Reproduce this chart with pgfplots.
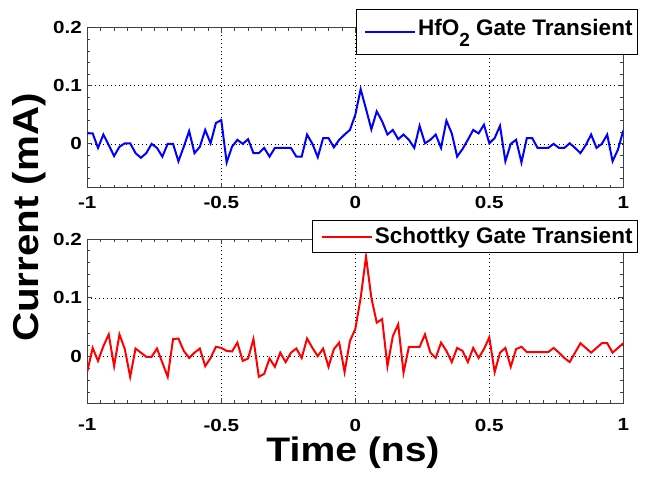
\documentclass[border=0pt]{standalone}
\usepackage{fontspec}
\setmainfont{Liberation Sans}
\usepackage{pgfplots}
\pgfplotsset{compat=1.18}
\usepackage{pgfplotstable}

\pgfplotstableread{
x y
-1.00 0.018
-0.98 0.018
-0.96 -0.007
-0.94 0.016
-0.92 -0.002
-0.90 -0.021
-0.88 -0.005
-0.86 0.001
-0.84 0.001
-0.82 -0.016
-0.80 -0.024
-0.78 -0.016
-0.76 0.000
-0.74 -0.007
-0.72 -0.022
-0.70 0.000
-0.68 0.000
-0.66 -0.030
-0.64 -0.005
-0.62 0.022
-0.60 -0.016
-0.58 -0.005
-0.56 0.024
-0.54 0.001
-0.52 0.036
-0.50 0.041
-0.48 -0.032
-0.46 -0.005
-0.44 0.007
-0.42 0.000
-0.40 0.008
-0.38 -0.016
-0.36 -0.016
-0.34 -0.007
-0.32 -0.022
-0.30 -0.007
-0.28 -0.007
-0.26 -0.007
-0.24 -0.007
-0.22 -0.022
-0.20 -0.022
-0.18 0.016
-0.16 0.000
-0.14 -0.023
-0.12 0.010
-0.10 0.010
-0.08 -0.006
-0.06 0.007
-0.04 0.016
-0.02 0.024
0.00 0.050
0.02 0.094
0.04 0.060
0.06 0.025
0.08 0.056
0.10 0.039
0.12 0.016
0.14 0.024
0.16 0.008
0.18 0.016
0.20 0.007
0.22 -0.007
0.24 0.031
0.26 0.001
0.28 0.007
0.30 0.016
0.32 -0.007
0.34 0.040
0.36 0.018
0.38 -0.022
0.40 -0.009
0.42 0.007
0.44 0.024
0.46 0.018
0.48 0.033
0.50 0.001
0.52 0.010
0.54 0.031
0.56 -0.030
0.58 0.000
0.60 0.007
0.62 -0.032
0.64 0.010
0.66 0.010
0.68 -0.007
0.70 -0.007
0.72 -0.007
0.74 0.000
0.76 -0.007
0.78 -0.007
0.80 0.001
0.82 -0.007
0.84 -0.016
0.86 -0.002
0.88 0.016
0.90 -0.007
0.92 0.000
0.94 0.016
0.96 -0.030
0.98 -0.010
1.00 0.023
}\hfodata

\pgfplotstableread{
x y
-1.00 -0.025
-0.98 0.015
-0.96 -0.007
-0.94 0.018
-0.92 0.038
-0.90 -0.016
-0.88 0.038
-0.86 0.013
-0.84 -0.034
-0.82 0.014
-0.80 0.007
-0.78 0.000
-0.76 0.000
-0.74 0.014
-0.72 -0.010
-0.70 -0.034
-0.68 0.030
-0.66 0.031
-0.64 0.010
-0.62 -0.002
-0.60 0.007
-0.58 0.014
-0.56 -0.016
-0.54 -0.002
-0.52 0.017
-0.50 0.015
-0.48 0.010
-0.46 0.009
-0.44 0.024
-0.42 -0.007
-0.40 -0.003
-0.38 0.030
-0.36 -0.034
-0.34 -0.029
-0.32 -0.003
-0.30 -0.017
-0.28 0.007
-0.26 -0.009
-0.24 0.007
-0.22 0.014
-0.20 -0.002
-0.18 0.031
-0.16 0.015
-0.14 0.001
-0.12 0.014
-0.10 -0.017
-0.08 0.013
-0.06 0.024
-0.04 -0.026
-0.02 0.027
0.00 0.047
0.02 0.100
0.04 0.170
0.06 0.100
0.08 0.058
0.10 0.064
0.12 -0.016
0.14 0.035
0.16 0.055
0.18 -0.027
0.20 0.017
0.22 0.017
0.24 0.017
0.26 0.038
0.28 0.007
0.30 -0.002
0.32 0.024
0.34 0.010
0.36 -0.009
0.38 0.015
0.40 0.010
0.42 -0.009
0.44 0.015
0.46 -0.002
0.48 0.013
0.50 0.033
0.52 -0.026
0.54 0.007
0.56 0.015
0.58 -0.017
0.60 0.013
0.62 0.017
0.64 0.008
0.66 0.008
0.68 0.008
0.70 0.008
0.72 0.008
0.74 0.015
0.76 0.007
0.78 -0.002
0.80 -0.009
0.82 0.007
0.84 0.023
0.86 0.015
0.88 0.007
0.90 0.015
0.92 0.023
0.94 0.023
0.96 0.007
0.98 0.015
1.00 0.023
}\schdata

\newcommand{\tl}[1]{\scalebox{1.18}[1]{#1}}

\pgfplotsset{
  matstyle/.style={
    scale only axis,
    width=536pt,
    anchor=south west,
    xmin=-1, xmax=1,
    ymax=0.2,
    xtick={-1,-0.5,0,0.5,1},
    xticklabels={\tl{-1},\tl{-0.5},\tl{0},\tl{0.5},\tl{1}},
    ytick={0,0.1,0.2},
    yticklabels={\tl{0},\tl{0.1},\tl{0.2}},
    minor xtick={-0.95,-0.9,-0.85,-0.8,-0.75,-0.7,-0.65,-0.6,-0.55,-0.45,-0.4,-0.35,-0.3,-0.25,-0.2,-0.15,-0.1,-0.05,0.05,0.1,0.15,0.2,0.25,0.3,0.35,0.4,0.45,0.55,0.6,0.65,0.7,0.75,0.8,0.85,0.9,0.95},
    minor ytick={-0.06,-0.04,-0.02,0.02,0.04,0.06,0.08,0.12,0.14,0.16,0.18},
    tick align=inside,
    major tick length=5pt,
    minor tick length=3pt,
    every tick/.style={black!75, line width=0.8pt},
    axis line style={black!75, line width=1pt},
    grid=major,
    major grid style={black, line width=0.7pt, dash pattern=on 0.9pt off 3pt},
    ticklabel style={font=\bfseries\fontsize{17.5}{18}\selectfont},
    yticklabel style={xshift=-2pt},
    legend cell align=left,
    legend image code/.code={\path (0pt,0pt); \draw[#1, line width=2pt] (5pt,0pt) -- (55pt,0pt);},
    legend style={draw=black, line width=1pt, fill=white,
      font=\bfseries\fontsize{22.5}{24}\selectfont},
  }
}

\begin{document}
\begin{tikzpicture}
\useasboundingbox (0pt,0pt) rectangle (646pt,477pt);
\begin{axis}[matstyle,
  at={(87.3pt,289pt)}, height=160.3pt, ymin=-0.076,
  xticklabel style={yshift=-5pt},
  legend style={at={(axis description cs:1.0274,1.1167)}, anchor=north east,
    inner xsep=3pt, inner ysep=4pt,
    nodes={inner xsep=2pt, inner ysep=4pt, text height=18pt, text depth=11pt}}]
\addplot[blue, line width=2pt] table[x=x,y=y] {\hfodata};
\addlegendentry{HfO\raisebox{-11pt}{\fontsize{19}{19}\selectfont 2} Gate Transient}
\end{axis}
\begin{axis}[matstyle,
  at={(87.3pt,73.7pt)}, height=164.3pt, ymin=-0.079,
  xticklabel style={yshift=-12pt},
  legend style={at={(axis description cs:1.0274,1.1156)}, anchor=north east,
    inner xsep=3pt, inner ysep=2pt,
    nodes={inner xsep=2pt, inner ysep=3pt, text height=18pt, text depth=4pt}}]
\addplot[red, line width=2pt] table[x=x,y=y] {\schdata};
\addlegendentry{Schottky Gate Transient}
\end{axis}
\node[rotate=90, font=\bfseries\fontsize{36}{36}\selectfont] at (29pt,259.5pt) {\scalebox{1.12}[1]{Current (mA)}};
\node[anchor=base, font=\bfseries\fontsize{34}{34}\selectfont] at (353pt,15pt) {\scalebox{1.15}[1]{Time (ns)}};
\end{tikzpicture}
\end{document}
